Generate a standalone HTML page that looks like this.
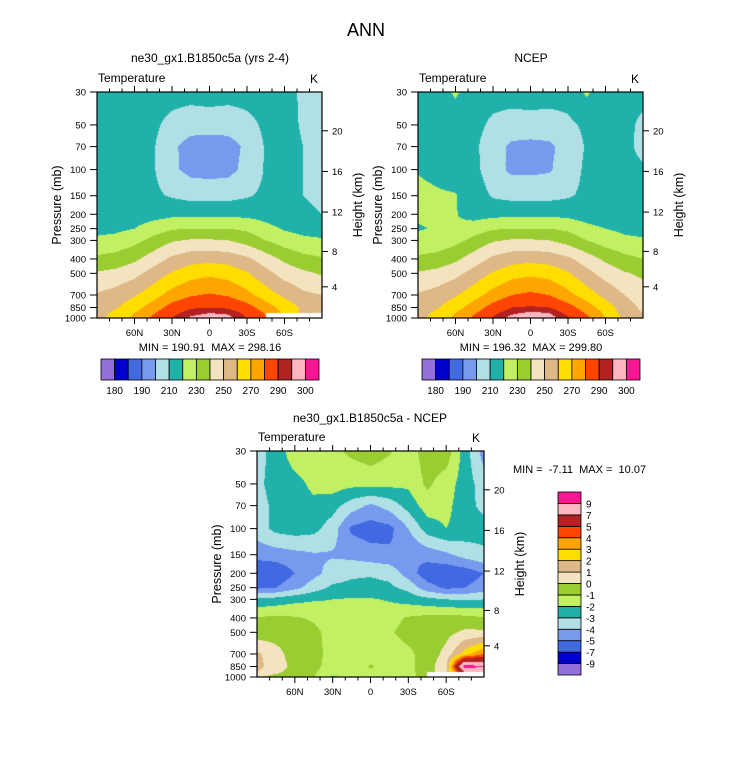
<!DOCTYPE html>
<html><head><meta charset="utf-8"><style>
html,body{margin:0;padding:0;background:#fff;}
#root{position:relative;width:733px;height:772px;overflow:hidden;font-family:"Liberation Sans",Arial,sans-serif;}
canvas{position:absolute;}
svg{position:absolute;left:0;top:0;}
svg text{white-space:pre;}
</style></head><body>
<div id="root">
<canvas id="c1"></canvas>
<canvas id="c2"></canvas>
<canvas id="c3"></canvas>
<svg id="ov" width="733" height="772"></svg>
</div>
<script>
const levels = [1000,925,850,700,500,400,300,250,200,150,100,70,50,30];
const lats = [90,75,60,45,30,15,0,-15,-30,-45,-60,-75,-90];
const latTickLabels = ["60N","30N","0","30S","60S"];
const latTickValues = [60,30,0,-30,-60];
const presTicks = [30,50,70,100,150,200,250,300,400,500,700,850,1000];
const heightTicks = [4,8,12,16,20];
const tempLevels = [180,185,190,200,210,220,230,240,250,260,270,280,290,295,300];
const tempBarLabels = ["180","190","210","230","250","270","290","300"];
const diffLevels = [-9,-7,-5,-4,-3,-2,-1,0,1,2,3,4,5,7,9];
const diffBarLabels = ["-9","-7","-5","-4","-3","-2","-1","0","1","2","3","4","5","7","9"];
const palette = ['#9370DB','#0000CD','#4169E1','#7799EE','#B0E0E6','#20B2AA','#C1F063','#9ACD32','#F3E3BF','#DEB887','#FFDD00','#FFA500','#FF4500','#B22222','#FFB6C1','#FF1493'];
const N = NaN;
const modelT = [
[257,264,272,282,290,296,298,297,290,281,N,N,N],
[256,262,270,279,288,293,295,294,288,279,268,258,254],
[255,259,266,275,284,289,290,289,284,275,266,258,254],
[251,254,259,266,274,279,281,279,273,265,258,252,250],
[241,243,247,254,261,266,268,266,261,253,246,242,239],
[232,234,238,245,252,256,257,256,252,245,238,233,231],
[222,223,227,233,239,241,241,240,236,230,225,222,221],
[217,218,220,225,229,230,230,230,228,223,219,217,216],
[215,215,215,216,217.5,217.5,217.5,217.5,217.5,216,214,212,210],
[214,214,213,212,209,207,207,207,209,212,213,210,208],
[214,214,213,211,202,197,196,197,203,211,213,210,208],
[214,214,213,211,202,196,195,196,202,211,213,210,208],
[214,214,213,212,207,204,204,204,207,212,213,209,208],
[213,213,213,214,214,214,215,214,214,214,212,209,208]];
const ncepT = [
[257,264,272,282,291,297,299.5,298,291,282,270,258,251],
[256,262,270,279,288,294,296,295,288,279,268,256,250],
[255,259,266,275,284,290,291,290,284,275,265,255,248],
[251,254,259,266,274,280,282,280,273,265,257,250,245],
[241,243,247,254,261,266,268,266,261,253,246,241,238],
[232,234,238,245,252,256,257,256,252,245,238,233,230],
[222,223,227,233,239,241,241,240,236,230,225,222,221],
[219.5,220.5,221,225,229,230,230,230,228,223,220,218,217],
[221,221,220.5,216,217,218,218,218,217,215,213,212,212],
[222,221,220.5,215,209,207,207,207,209,212,213,212,212],
[219.5,218,216,213,204,198,198,199,205,212,213,212,211],
[214,214,213.5,212,204,198,197,198,204,211,213,212,208],
[214,214,214,213,208,206,206,206,208,212,213,212,208.5],
[213,215,221.5,214,214,214,215,214,214,221.5,213,213,212]];
const diffT = [
[0.2,-0.5,-0.8,-0.9,-2.2,-1.5,-1.2,-1.4,-1.3,-0.6,N,N,N],
[1.0,0.3,-0.5,-0.9,-1.5,-1.6,-1.1,-1.4,-1.3,-0.5,0.8,7,7],
[1.3,0.5,-0.3,-0.8,-1.3,-1.6,-0.9,-1.4,-1.3,-0.5,0.8,10,9],
[1.2,0.4,-0.5,-0.8,-1.2,-1.5,-1.5,-1.4,-1.2,-0.6,0.3,2.5,4],
[-0.6,-0.5,-0.6,-0.8,-1.3,-1.5,-1.4,-1.1,-0.7,-0.5,-0.3,0.2,0.2],
[-0.9,-0.8,-0.9,-1.1,-1.5,-1.6,-1.5,-1.3,-0.9,-0.7,-0.6,-0.7,-0.9],
[-2.8,-2.6,-2.3,-2.1,-2.0,-1.9,-1.9,-2.1,-2.4,-2.7,-3.0,-3.1,-3.0],
[-5.2,-5.0,-4.3,-3.5,-2.8,-2.7,-2.7,-2.8,-3.3,-4.6,-5.2,-5.0,-4.5],
[-6.0,-5.8,-5.0,-4.3,-3.6,-3.2,-3.1,-3.3,-4.5,-5.6,-5.8,-5.6,-5.0],
[-4.6,-4.5,-4.3,-4.1,-4.1,-4.3,-4.6,-4.8,-5.0,-4.6,-4.2,-3.6,-3.2],
[-3.5,-2.7,-2.5,-2.7,-3.5,-5.2,-5.5,-5.3,-4.0,-2.5,-2.0,-2.4,-2.6],
[-3.5,-2.7,-2.3,-2.2,-2.6,-3.5,-4.2,-3.6,-2.6,-1.5,-1.7,-2.6,-3.3],
[-3.3,-2.5,-2.3,-1.8,-1.5,-1.7,-1.6,-1.7,-1.8,-0.8,-1.5,-2.5,-3.5],
[-3.5,-2.5,-1.5,-1.3,-1.2,-0.8,-0.5,-0.9,-1.5,-0.5,-0.4,-2.5,-4.5]];

const SVGNS="http://www.w3.org/2000/svg";
const ov=document.getElementById('ov');
function mk(tag,attrs,parent,txt){const e=document.createElementNS(SVGNS,tag);for(const k in attrs)e.setAttribute(k,attrs[k]);if(txt!==undefined)e.textContent=txt;(parent||ov).appendChild(e);return e;}
function hex2rgb(h){return [parseInt(h.substr(1,2),16),parseInt(h.substr(3,2),16),parseInt(h.substr(5,2),16)];}
const palRGB=palette.map(hex2rgb);
function colorIndex(v,bounds){let i=0;while(i<bounds.length&&v>=bounds[i])i++;return i;}
function pressureHeight(z){const m=z*1000;if(m<=11000)return 1013.25*Math.pow(1-2.25577e-5*m,5.25588);return 226.32*Math.exp(-(m-11000)/6341.6);}

function drawPanel(cv,data,bounds,X,Y,W,H){
  const yOf=p=>Y+H-Math.log(1000/p)/Math.log(1000/30)*H;
  const xOf=lat=>X+(90-lat)/180*W;
  cv.width=W;cv.height=H;cv.style.left=X+'px';cv.style.top=Y+'px';
  const ctx=cv.getContext('2d');const img=ctx.createImageData(W,H);
  const gx=lats.map(l=>xOf(l)-X), gy=levels.map(p=>yOf(p)-Y);
  for(let py=0;py<H;py++){
    const yy=py+0.5;let j=0;while(j<gy.length-2&&yy<gy[j+1])j++;
    const ty=Math.min(1,Math.max(0,(gy[j]-yy)/(gy[j]-gy[j+1])));
    for(let px=0;px<W;px++){
      const xx=px+0.5;let i=0;while(i<gx.length-2&&xx>gx[i+1])i++;
      const tx=Math.min(1,Math.max(0,(xx-gx[i])/(gx[i+1]-gx[i])));
      const a=data[j][i],b=data[j][i+1],c=data[j+1][i],d=data[j+1][i+1];
      const o=(py*W+px)*4;
      if(isNaN(a)||isNaN(b)||isNaN(c)||isNaN(d)){img.data[o]=255;img.data[o+1]=255;img.data[o+2]=255;img.data[o+3]=255;continue;}
      const v=(a*(1-tx)+b*tx)*(1-ty)+(c*(1-tx)+d*tx)*ty;
      const col=palRGB[colorIndex(v,bounds)];
      img.data[o]=col[0];img.data[o+1]=col[1];img.data[o+2]=col[2];img.data[o+3]=255;
    }
  }
  ctx.putImageData(img,0,0);
  const g=mk('g',{});
  
  
  mk('rect',{x:X,y:Y,width:W,height:H,fill:'none',stroke:'#000','stroke-width':1.2},g);
  for(let lat=80;lat>=-80;lat-=10){
    const x=xOf(lat),len=(lat%30===0)?6:3.5;
    mk('line',{x1:x,y1:Y,x2:x,y2:Y-len,stroke:'#000','stroke-width':1},g);
    mk('line',{x1:x,y1:Y+H,x2:x,y2:Y+H+len,stroke:'#000','stroke-width':1},g);
  }
  latTickValues.forEach((lv,k)=>{
    const t=mk('text',{x:xOf(lv),y:Y+H+18,'font-size':9.5,'text-anchor':'middle'},g,latTickLabels[k]);
    
  });
  presTicks.forEach(p=>{
    const y=yOf(p);
    mk('line',{x1:X,y1:y,x2:X-7,y2:y,stroke:'#000','stroke-width':1},g);
    const t=mk('text',{x:X-11,y:y+3.5,'font-size':9.5,'text-anchor':'end'},g,String(p));
    
  });
  heightTicks.forEach(z=>{
    const y=yOf(pressureHeight(z));
    mk('line',{x1:X+W,y1:y,x2:X+W+6,y2:y,stroke:'#000','stroke-width':1},g);
    const t=mk('text',{x:X+W+10,y:y+3.5,'font-size':9.5},g,String(z));
    
  });
  const cy=Y+H/2;
  const yl=mk('text',{x:X-36,y:cy,'font-size':12.5,'text-anchor':'middle',transform:`rotate(-90 ${X-36} ${cy})`},g,'Pressure (mb)');
  
  const hl=mk('text',{x:X+W+40,y:cy,'font-size':12.5,'text-anchor':'middle',transform:`rotate(-90 ${X+W+40} ${cy})`},g,'Height (km)');
  
  const tl=mk('text',{x:X+1,y:Y-10,'font-size':12},g,'Temperature');
  
  const kl=mk('text',{x:X+W-4,y:Y-9,'font-size':12,'text-anchor':'end'},g,'K');
  
}

function hBar(X,Y,W,H){
  const g=mk('g',{});
  
  
  const bw=W/palette.length;
  palette.forEach((c,i)=>{
    const r=mk('rect',{x:X+i*bw,y:Y,width:bw,height:H,fill:c,stroke:'#000','stroke-width':0.8},g);
    
  });
  tempBarLabels.forEach((lab,k)=>{
    const idx=tempLevels.indexOf(+lab);
    const t=mk('text',{x:X+(idx+1)*bw,y:Y+H+14,'font-size':10,'text-anchor':'middle'},g,lab);
    
  });
}
function vBar(X,Y,W,H){
  const g=mk('g',{});
  
  
  const n=palette.length,bh=H/n;
  palette.forEach((c,i)=>{
    const r=mk('rect',{x:X,y:Y+(n-1-i)*bh,width:W,height:bh,fill:c,stroke:'#000','stroke-width':0.8},g);
    
  });
  diffBarLabels.forEach((lab,k)=>{
    const idx=diffLevels.indexOf(+lab);
    const t=mk('text',{x:X+W+5,y:Y+(n-1-idx)*bh+4,'font-size':10},g,lab);
    
  });
}
function label(txt,x,y,size,anchor,name){const t=mk('text',{x:x,y:y,'font-size':size,'text-anchor':anchor||'start'},ov,txt);return t;}

label('ANN',366,36,18,'middle','figure-title');
label('ne30_gx1.B1850c5a (yrs 2-4)',210,62,12,'middle','model-panel-title');
label('NCEP',531,62,12,'middle','ncep-panel-title');
label('ne30_gx1.B1850c5a - NCEP',370,422,12,'middle','difference-panel-title');

drawPanel(document.getElementById('c1'),modelT,tempLevels,97,92,225,226);
drawPanel(document.getElementById('c2'),ncepT,tempLevels,418,92,225,226);
drawPanel(document.getElementById('c3'),diffT,diffLevels,257,451,227,226);

label('MIN = 190.91  MAX = 298.16',210,351,11,'middle','model-min-max');
label('MIN = 196.32  MAX = 299.80',531,351,11,'middle','ncep-min-max');
label('MIN =  -7.11  MAX =  10.07',513,473,11,'start','difference-min-max');

hBar(101,359,218,21);
hBar(422,359,218,21);
vBar(558,492,23,183);
</script>
</body></html>
